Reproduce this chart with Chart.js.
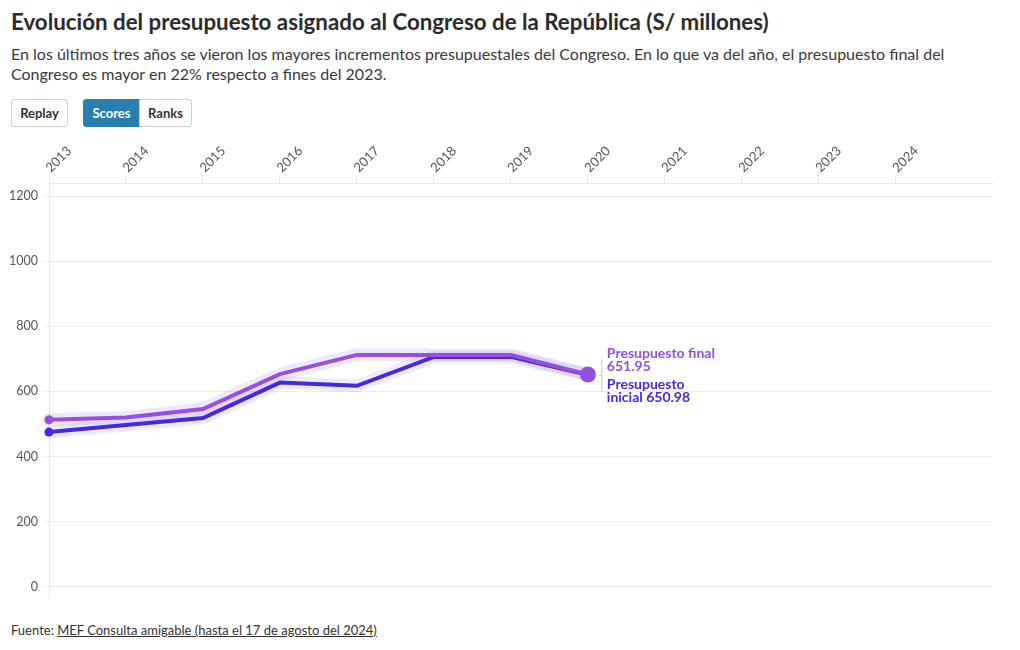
<!DOCTYPE html>
<html><head><meta charset="utf-8">
<script src="https://cdn.jsdelivr.net/npm/chart.js@4/dist/chart.umd.min.js"></script>
<style>
body{margin:0;width:1020px;height:650px;background:#fff;font-family:Lato,"Noto Sans",sans-serif;color:#333;position:relative;overflow:hidden}
#title{position:absolute;left:11px;top:8px;font-size:22.3px;font-weight:700;color:#2b2b2b;white-space:nowrap}
#sub{position:absolute;left:11px;top:44px;width:945px;font-size:16px;line-height:20px;color:#3a3a3a}
.btn{position:absolute;top:99px;height:28px;box-sizing:border-box;border:1px solid #ccc;border-radius:3px;font-size:13px;font-weight:700;line-height:26px;text-align:center;color:#333;background:#fff}
#chartbox{position:absolute;left:0;top:130px;width:1020px;height:480px}
#foot{position:absolute;left:11px;top:622px;font-size:13px;color:#333}
#foot a{color:#333;text-decoration:underline}
</style></head>
<body>
<div id="title">Evolución del presupuesto asignado al Congreso de la República (S/ millones)</div>
<div id="sub">En los últimos tres años se vieron los mayores incrementos presupuestales del Congreso. En lo que va del año, el presupuesto final del Congreso es mayor en 22% respecto a fines del 2023.</div>
<div class="btn" style="left:11px;width:57px">Replay</div>
<div class="btn" style="left:83px;width:57px;background:#2a7fb1;border-color:#2a7fb1;color:#fff;border-radius:3px 0 0 3px">Scores</div>
<div class="btn" style="left:139px;width:53px;border-radius:0 3px 3px 0">Ranks</div>
<div id="chartbox"><canvas id="c"></canvas></div>
<div id="foot">Fuente: <a>MEF Consulta amigable (hasta el 17 de agosto del 2024)</a></div>
<script>
const years = [2013, 2014, 2015, 2016, 2017, 2018, 2019, 2020];
const presupuestoFinal = [513, 520, 546, 653, 712, 712, 712, 651.95];
const presupuestoInicial = [475, 497, 518, 627, 617, 706, 706, 650.98];
const xTickYears = [2013, 2014, 2015, 2016, 2017, 2018, 2019, 2020, 2021, 2022, 2023, 2024];
const yTickValues = [0, 200, 400, 600, 800, 1000, 1200];
const seriesNames = ['Presupuesto final', 'Presupuesto inicial'];

const purple = '#9550e0';
const blue = '#4628e0';
const toXY = arr => arr.map((v, i) => ({x: years[i], y: v}));
const lastIdx = years.length - 1;

const endLabels = {
  id: 'endLabels',
  afterDraw(chart) {
    const ctx = chart.ctx;
    // rotated x tick labels on the top axis
    const xs = chart.scales.x;
    ctx.save();
    ctx.font = '13px Lato, "Noto Sans", sans-serif';
    ctx.fillStyle = '#555';
    ctx.textAlign = 'left';
    ctx.textBaseline = 'middle';
    xTickYears.forEach(v => {
      const px = xs.getPixelForValue(v);
      ctx.save();
      ctx.translate(px - 1, xs.bottom - 13);
      ctx.rotate(-Math.PI / 4);
      ctx.fillText(String(v), 0, 0);
      ctx.restore();
    });
    ctx.restore();

    const pf = chart.getDatasetMeta(0).data[lastIdx];
    const pi = chart.getDatasetMeta(1).data[lastIdx];
    const x = pf.x + 19, y = (pf.y + pi.y) / 2;
    ctx.save();
    ctx.strokeStyle = '#c4c4c4';
    ctx.lineWidth = 1;
    ctx.beginPath();
    ctx.moveTo(x - 5, y - 15); ctx.lineTo(x - 5, y + 17);
    ctx.moveTo(x - 5, y + 1); ctx.lineTo(x - 8, y + 1);
    ctx.stroke();
    ctx.font = 'bold 14px Lato, "Noto Sans", sans-serif';
    ctx.textBaseline = 'middle';
    ctx.textAlign = 'left';
    ctx.fillStyle = purple;
    ctx.fillText(seriesNames[0], x, y - 21);
    ctx.fillText(presupuestoFinal[lastIdx].toFixed(2), x, y - 8);
    ctx.fillStyle = blue;
    ctx.fillText('Presupuesto', x, y + 10);
    ctx.fillText('inicial ' + presupuestoInicial[lastIdx].toFixed(2), x, y + 23);
    ctx.restore();
  }
};

new Chart(document.getElementById('c'), {
  type: 'line',
  data: {
    datasets: [
      {label: seriesNames[0], data: toXY(presupuestoFinal), borderColor: purple, backgroundColor: purple, borderWidth: 4, clip: false,
        pointRadius: c => c.dataIndex === 0 ? 4.5 : (c.dataIndex === lastIdx ? 8 : 0), pointBorderWidth: 0, tension: 0},
      {label: seriesNames[1], data: toXY(presupuestoInicial), borderColor: blue, backgroundColor: blue, borderWidth: 4, clip: false,
        pointRadius: c => c.dataIndex === 0 ? 4.5 : (c.dataIndex === lastIdx ? 7 : 0), pointBorderWidth: 0, tension: 0},
      {label: 'halo1', data: toXY(presupuestoFinal), borderColor: 'rgba(150,110,235,0.16)', borderWidth: 13, pointRadius: 0, tension: 0, clip: false, borderJoinStyle: 'round', borderCapStyle: 'round'},
      {label: 'halo2', data: toXY(presupuestoInicial), borderColor: 'rgba(110,90,235,0.12)', borderWidth: 13, pointRadius: 0, tension: 0, clip: false, borderJoinStyle: 'round', borderCapStyle: 'round'}
    ]
  },
  options: {
    responsive: true,
    maintainAspectRatio: false,
    animation: false,
    layout: {padding: {left: 0, right: 28, top: 0, bottom: 12}},
    plugins: {legend: {display: false}, tooltip: {enabled: false}},
    scales: {
      x: {
        type: 'linear', position: 'top', min: 2013, max: 2025.25,
        afterBuildTicks: s => { s.ticks = xTickYears.map(v => ({value: v})); },
        afterFit: s => { s.height = 53; },
        ticks: {display: false},
        grid: {drawOnChartArea: false, drawTicks: true, tickLength: 8, color: '#e8e8e8'},
        border: {color: '#e8e8e8'}
      },
      y: {
        min: -33, max: 1240,
        afterBuildTicks: s => { s.ticks = yTickValues.map(v => ({value: v})); },
        afterFit: s => { s.width = 49; },
        ticks: {color: '#555', font: {family: 'Lato', size: 12.5}, padding: 5, callback: v => String(v)},
        grid: {color: '#ececec', tickLength: 6},
        border: {color: '#e8e8e8'}
      }
    }
  },
  plugins: [endLabels]
});
</script>
</body></html>
